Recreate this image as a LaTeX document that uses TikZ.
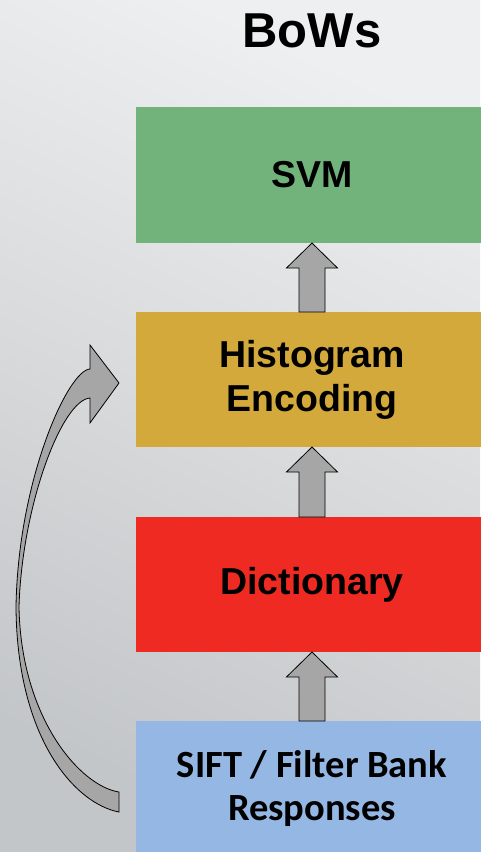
\documentclass[tikz,border=0pt]{standalone}
\usepackage{fontspec}
\setmainfont{Liberation Sans}
\newfontfamily\calibrifont{Carlito}
\usetikzlibrary{calc}
\definecolor{bglight}{HTML}{EEEFF0}
\definecolor{bgdark}{HTML}{C3C6C8}
\definecolor{svmgreen}{HTML}{72B37B}
\definecolor{histgold}{HTML}{D4A93C}
\definecolor{dictred}{HTML}{EE2A22}
\definecolor{siftblue}{HTML}{95B7E3}
\definecolor{arrowgray}{HTML}{A6A6A6}
\tikzset{
  stage/.style={minimum width=352, minimum height=136, inner sep=0pt, outer sep=0pt,
    align=center, font=\bfseries\fontsize{37.5}{44}\selectfont},
  blockarrow/.style={fill=arrowgray, draw=black, line width=0.8pt, line join=miter},
}
% draws a block arrow from the top of #1 to the bottom of #2
\newcommand{\stagearrow}[2]{%
  \draw[blockarrow] ($(#1.north)+(-13,0)$) -- ($(#2.south)+(-13,25)$)
    -- ($(#2.south)+(-25.5,25)$) -- (#2.south) -- ($(#2.south)+(25.5,25)$)
    -- ($(#2.south)+(13,25)$) -- ($(#1.north)+(13,0)$) -- cycle;}
\begin{document}
\begin{tikzpicture}[x=1pt, y=-1pt]
  % background
  \shade[top color=bglight, bottom color=bgdark, shading angle=-25] (0,0) rectangle (480,852);
  \useasboundingbox (0,0) rectangle (480,852);

  \node[font=\bfseries\fontsize{49}{50}\selectfont] (title) at (312,31) {BoWs};

  \node[stage, fill=svmgreen] (svm) at (312,175) {SVM};
  \node[stage, fill=histgold, minimum height=135] (hist) at (312,379.5) {Histogram\\Encoding};
  \node[stage, fill=dictred, minimum height=135] (dict) at (312,584.5) {Dictionary};
  \node[stage, fill=siftblue, font=\calibrifont\bfseries\fontsize{38.5}{43}\selectfont] (sift) at (312,789) {SIFT / Filter Bank\\Responses};

  \stagearrow{hist}{svm}
  \stagearrow{dict}{hist}
  \stagearrow{sift}{dict}

  % curved block arrow from the features to the encoding
  \draw[blockarrow] (119,812) .. controls (76,804) and (17,740) .. (16,607)
    .. controls (18,480) and (68,370) .. (90,369)
    -- (90,345) -- (119,383) -- (90,423) -- (90,398)
    .. controls (62,400) and (22,505) .. (19,607)
    .. controls (21,718) and (80,786) .. (119,792) -- cycle;
\end{tikzpicture}
\end{document}
